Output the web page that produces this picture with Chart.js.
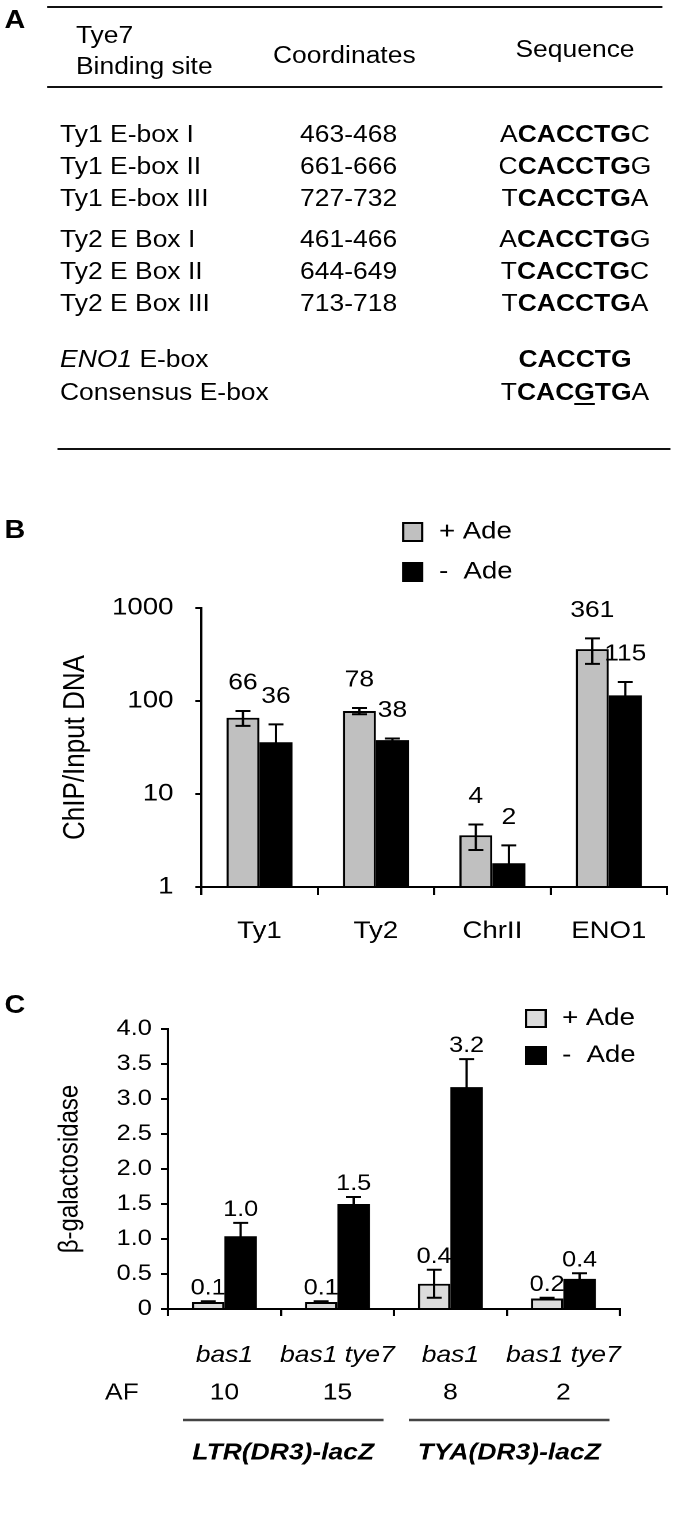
<!DOCTYPE html>
<html>
<head>
<meta charset="utf-8">
<script src="https://cdn.jsdelivr.net/npm/chart.js@4.4.1/dist/chart.umd.min.js"></script>
<style>
  body { margin: 0; background: #fff; width: 677px; height: 1525px; overflow: hidden; }
  /* the source figure is a bit wider than tall glyphs suggest, so stretch everything */
  #fig { position: absolute; left: 0; top: 0; width: 588.7px; height: 1525px;
         transform: scaleX(1.15); transform-origin: 0 0;
         font-family: 'Liberation Sans', Arial, sans-serif; color: #000; }
  .letter { position: absolute; left: 4px; font-weight: bold; font-size: 25px; line-height: 25px; }
  .rule { position: absolute; height: 2px; background: #111; }
  .cell { position: absolute; font-size: 23px; white-space: pre; }
  .cell u { text-decoration-thickness: 2px; text-underline-offset: 3px; }
  .box { position: absolute; left: 0; width: 588px; }
</style>
</head>
<body>
<div id="fig">
  <div id="tableA"></div>
  <div class="box" style="top:470px;height:480px"><canvas id="chartB"></canvas></div>
  <div class="box" style="top:950px;height:575px"><canvas id="chartC"></canvas></div>
  <div class="letter" style="top:7px">A</div>
  <div class="letter" style="top:517px">B</div>
  <div class="letter" style="top:992px">C</div>
</div>
<script>
// ---- panel A table ----
const siteNames = ['Ty1 E-box I', 'Ty1 E-box II', 'Ty1 E-box III',
                   'Ty2 E Box I', 'Ty2 E Box II', 'Ty2 E Box III',
                   'ENO1 E-box', 'Consensus E-box'];
const siteCoords = ['463-468', '661-666', '727-732', '461-466', '644-649', '713-718', '', ''];
const siteSeqs = ['ACACCTGC', 'CCACCTGG', 'TCACCTGA', 'ACACCTGG', 'TCACCTGC', 'TCACCTGA',
                  'CACCTG', 'TCACGTGA'];
const rowGroups = [[0, 1, 2], [3, 4, 5], [6, 7]];

// ---- panel B ----
const catsB = ['Ty1', 'Ty2', 'ChrII', 'ENO1'];
const plusAdeB = [66, 78, 3.6, 361];
const plusErrB = [12, 6, 1.1, 110];
const minusAdeB = [36, 38, 1.8, 115];
const minusErrB = [20, 1.5, 1.0, 45];
const plusLabelsB = ['66', '78', '4', '361'];
const minusLabelsB = ['36', '38', '2', '115'];
const yTicksB = [1, 10, 100, 1000];

// ---- panel C ----
const catsC = ['bas1', 'bas1 tye7', 'bas1', 'bas1 tye7'];
const plusAdeC = [0.1, 0.1, 0.36, 0.15];
const plusErrC = [0.01, 0.01, 0.2, 0.01];
const minusAdeC = [1.04, 1.5, 3.17, 0.43];
const minusErrC = [0.19, 0.1, 0.4, 0.08];
const plusLabelsC = ['0.1', '0.1', '0.4', '0.2'];
const minusLabelsC = ['1.0', '1.5', '3.2', '0.4'];
const afValuesC = ['10', '15', '8', '2'];
const groupLabelsC = ['LTR(DR3)-lacZ', 'TYA(DR3)-lacZ'];
const groupSpansC = [[0, 1], [2, 3]];
const yTicksC = [0, 0.5, 1, 1.5, 2, 2.5, 3, 3.5, 4];

const FONT = "'Liberation Sans', Arial, sans-serif";

// build the table
const tableA = document.getElementById('tableA');
function cell(html, left, top, lineH, extra) {
  const d = document.createElement('div');
  d.className = 'cell';
  d.style.left = left + 'px';
  d.style.top = top + 'px';
  d.style.lineHeight = lineH + 'px';
  if (extra) Object.assign(d.style, extra);
  d.innerHTML = html;
  tableA.appendChild(d);
}
function rule(left, top, width) {
  const d = document.createElement('div');
  d.className = 'rule';
  d.style.left = left + 'px';
  d.style.top = top + 'px';
  d.style.width = width + 'px';
  tableA.appendChild(d);
}
function fmtName(s) { return s.replace('ENO1', '<i>ENO1</i>'); }
function fmtSeq(s) {
  const m = s.match(/CAC[CG]TG/);
  let core = m[0];
  if (core === 'CACGTG') core = 'CAC<u>G</u>TG';
  return s.slice(0, m.index) + '<b>' + core + '</b>' + s.slice(m.index + 6);
}

rule(41, 6, 535);
rule(41, 86, 535);
rule(49.6, 448, 533);
cell('Tye7\nBinding site', 66, 19.5, 31);
cell('Coordinates', 237.4, 39.5, 31);
cell('Sequence', 400, 33.5, 31, { width: '200px', textAlign: 'center' });

const groupTops = [118, 223, 342.5];
const groupLineH = [32, 32, 33];
rowGroups.forEach((g, gi) => {
  g.forEach((r, k) => {
    const top = groupTops[gi] + k * groupLineH[gi];
    cell(fmtName(siteNames[r]), 52.2, top, groupLineH[gi]);
    cell(siteCoords[r], 260.9, top, groupLineH[gi]);
    cell(fmtSeq(siteSeqs[r]), 400, top, groupLineH[gi], { width: '200px', textAlign: 'center' });
  });
});

// ---- shared plugins ----
const errorBarPlugin = {
  id: 'errorBars',
  afterDatasetsDraw(chart, args, o) {
    const ctx = chart.ctx;
    const y = chart.scales.y;
    ctx.save();
    chart.data.datasets.forEach((ds, di) => {
      const meta = chart.getDatasetMeta(di);
      meta.data.forEach((bar, i) => {
        const v = ds.data[i], e = ds.errors[i];
        const yTop = y.getPixelForValue(v + e);
        const yBot = y.getPixelForValue(Math.max(v - e, y.min));
        ctx.strokeStyle = '#000';
        ctx.lineWidth = o.lineWidth;
        ctx.beginPath();
        ctx.moveTo(bar.x, yTop); ctx.lineTo(bar.x, yBot);
        ctx.moveTo(bar.x - o.cap, yTop); ctx.lineTo(bar.x + o.cap, yTop);
        ctx.moveTo(bar.x - o.cap, yBot); ctx.lineTo(bar.x + o.cap, yBot);
        ctx.stroke();
        ctx.fillStyle = '#000';
        ctx.font = o.fontSize + 'px ' + FONT;
        ctx.textAlign = 'center';
        ctx.textBaseline = 'middle';
        ctx.fillText(ds.valueLabels[i], bar.x, yTop - o.labelOffset);
      });
    });
    ctx.restore();
  }
};

const boxLegendPlugin = {
  id: 'boxLegend',
  afterDraw(chart, args, o) {
    const ctx = chart.ctx;
    ctx.save();
    chart.data.datasets.forEach((ds, i) => {
      const top = o.y + i * o.step;
      ctx.fillStyle = ds.backgroundColor;
      ctx.fillRect(o.x, top, o.w, o.h);
      if (ds.borderWidth) {
        ctx.lineWidth = 2;
        ctx.strokeStyle = '#000';
        ctx.strokeRect(o.x + 1, top + 1, o.w - 2, o.h - 2);
      }
      ctx.fillStyle = '#000';
      ctx.font = o.fontSize + 'px ' + FONT;
      ctx.textAlign = 'left';
      ctx.textBaseline = 'middle';
      ctx.fillText(ds.label, o.textX, top + o.h / 2);
    });
    ctx.restore();
  }
};

const strainRowsPlugin = {
  id: 'strainRows',
  afterDraw(chart, args, o) {
    const ctx = chart.ctx;
    const x = chart.scales.x;
    const w = (x.right - x.left) / catsC.length;
    ctx.save();
    ctx.fillStyle = '#000';
    ctx.textBaseline = 'middle';
    ctx.font = '23px ' + FONT;
    ctx.textAlign = 'left';
    ctx.fillText('AF', o.afX, x.top + o.afDy);
    ctx.textAlign = 'center';
    afValuesC.forEach((v, i) => ctx.fillText(v, x.getPixelForValue(i), x.top + o.afDy));
    ctx.strokeStyle = '#444';
    ctx.lineWidth = 2.5;
    ctx.font = 'italic bold 23px ' + FONT;
    groupSpansC.forEach((sp, gi) => {
      const l = x.left + sp[0] * w + o.insetL;
      const r = x.left + (sp[1] + 1) * w - o.insetR;
      ctx.beginPath();
      ctx.moveTo(l, x.top + o.lineDy);
      ctx.lineTo(r, x.top + o.lineDy);
      ctx.stroke();
      ctx.fillText(groupLabelsC[gi], (l + r) / 2, x.top + o.groupDy);
    });
    ctx.restore();
  }
};

Chart.defaults.font.family = FONT;
Chart.defaults.color = '#000';

function axisBase(tickLen) {
  return {
    grid: { drawOnChartArea: false, drawTicks: true, tickLength: tickLen, color: '#000', lineWidth: 2 },
    border: { display: true, color: '#000', width: 2, z: 1 }
  };
}

// ---- chart B ----
new Chart(document.getElementById('chartB'), {
  type: 'bar',
  data: {
    labels: catsB,
    datasets: [
      { label: '+ Ade', data: plusAdeB, errors: plusErrB, valueLabels: plusLabelsB,
        backgroundColor: '#c0c0c0', borderColor: '#000', borderWidth: 2,
        categoryPercentage: 0.567, barPercentage: 1 },
      { label: '-  Ade', data: minusAdeB, errors: minusErrB, valueLabels: minusLabelsB,
        backgroundColor: '#000', borderWidth: 0,
        categoryPercentage: 0.567, barPercentage: 1 }
    ]
  },
  options: {
    responsive: true,
    maintainAspectRatio: false,
    animation: false,
    devicePixelRatio: 2,
    layout: { padding: { top: 138, right: 8, left: 0, bottom: 0 } },
    plugins: {
      legend: { display: false },
      tooltip: { enabled: false },
      errorBars: { cap: 6.5, lineWidth: 2, labelOffset: 28, fontSize: 23 },
      boxLegend: { x: 349.6, y: 52, w: 18.5, h: 20, step: 40, textX: 381.7, fontSize: 24 }
    },
    scales: {
      x: {
        ...axisBase(8),
        grid: { ...axisBase(8).grid, offset: true },
        ticks: { font: { size: 24 }, padding: 22, maxRotation: 0, autoSkip: false },
        afterFit: s => { s.height = 63; }
      },
      y: {
        ...axisBase(5.2),
        type: 'logarithmic',
        min: 1,
        max: 1000,
        afterBuildTicks: s => { s.ticks = yTicksB.map(v => ({ value: v })); },
        ticks: { font: { size: 24 }, padding: 19, callback: v => String(v) },
        title: { display: true, text: 'ChIP/Input DNA', font: { size: 26 }, padding: { top: 50, bottom: 0 } },
        afterFit: s => { s.width = 175; }
      }
    }
  },
  plugins: [errorBarPlugin, boxLegendPlugin]
});

// ---- chart C ----
new Chart(document.getElementById('chartC'), {
  type: 'bar',
  data: {
    labels: catsC,
    datasets: [
      { label: '+ Ade', data: plusAdeC, errors: plusErrC, valueLabels: plusLabelsC,
        backgroundColor: '#dcdcdc', borderColor: '#000', borderWidth: 2,
        categoryPercentage: 0.575, barPercentage: 1 },
      { label: '-  Ade', data: minusAdeC, errors: minusErrC, valueLabels: minusLabelsC,
        backgroundColor: '#000', borderWidth: 0,
        categoryPercentage: 0.575, barPercentage: 1 }
    ]
  },
  options: {
    responsive: true,
    maintainAspectRatio: false,
    animation: false,
    devicePixelRatio: 2,
    layout: { padding: { top: 79, right: 49, left: 0, bottom: 0 } },
    plugins: {
      legend: { display: false },
      tooltip: { enabled: false },
      errorBars: { cap: 6.5, lineWidth: 2, labelOffset: 13, fontSize: 22 },
      boxLegend: { x: 456.5, y: 59, w: 19, h: 19, step: 37, textX: 488.7, fontSize: 24 },
      strainRows: { afX: 91.3, afDy: 84, lineDy: 111, groupDy: 144, insetL: 13, insetR: 9 }
    },
    scales: {
      x: {
        ...axisBase(7),
        grid: { ...axisBase(7).grid, offset: true },
        ticks: { font: { size: 23, style: 'italic' }, padding: 26, maxRotation: 0, autoSkip: false },
        afterFit: s => { s.height = 216; }
      },
      y: {
        ...axisBase(6),
        min: 0,
        max: 4,
        afterBuildTicks: s => { s.ticks = yTicksC.map(v => ({ value: v })); },
        ticks: { font: { size: 22 }, padding: 8, callback: v => (v === 0 ? '0' : v.toFixed(1)) },
        title: { display: true, text: 'β-galactosidase', font: { size: 24 }, padding: { top: 46.5, bottom: 0 } },
        afterFit: s => { s.width = 146; }
      }
    }
  },
  plugins: [errorBarPlugin, boxLegendPlugin, strainRowsPlugin]
});
</script>
</body>
</html>
